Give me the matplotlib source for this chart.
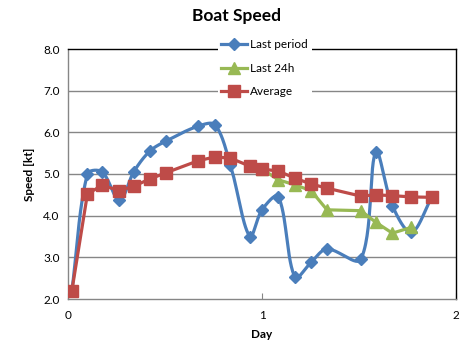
import numpy as np
import matplotlib
matplotlib.use("Agg")
import matplotlib.pyplot as plt
from matplotlib.lines import Line2D

plt.rcParams['font.family'] = ['Lato', 'DejaVu Sans']

# ---- data ----
day = [0.02, 0.10, 0.176, 0.265, 0.34, 0.422, 0.505, 0.672, 0.758, 0.837, 0.937,
       1.0, 1.084, 1.17, 1.253, 1.335, 1.509, 1.587, 1.672, 1.77, 1.875]
last_period = [2.2, 5.0, 5.05, 4.37, 5.06, 5.55, 5.79, 6.15, 6.18, 5.22, 3.5,
               4.14, 4.46, 2.52, 2.88, 3.2, 2.95, 5.53, 4.24, 3.6, 4.44]
average = [2.2, 4.52, 4.73, 4.6, 4.71, 4.88, 5.03, 5.32, 5.41, 5.38, 5.19,
           5.12, 5.07, 4.9, 4.76, 4.66, 4.47, 4.5, 4.48, 4.45, 4.44]
day_24h = [1.0, 1.084, 1.17, 1.253, 1.335, 1.509, 1.587, 1.672, 1.77]
last_24h = [5.12, 4.86, 4.74, 4.6, 4.14, 4.12, 3.84, 3.58, 3.72]

xticks = [0, 1, 2]
yticks = [2.0, 3.0, 4.0, 5.0, 6.0, 7.0, 8.0]

BLUE = '#4A7EBB'
RED = '#BE4B48'
GREEN = '#98B954'


def smooth(ax, xs, ys, n=30):
    """Excel-like smoothed line: Bezier with tangents weighted by segment length (display space)."""
    D = ax.transData.transform(np.column_stack([xs, ys]).astype(float))
    m = len(D)
    seglen = np.hypot(*np.diff(D, axis=0).T)
    tang = np.zeros_like(D)
    for i in range(m):
        a = D[i - 1] if i > 0 else D[i]
        b = D[i + 1] if i < m - 1 else D[i]
        tang[i] = b - a
    out = []
    for i in range(m - 1):
        p1, p2 = D[i], D[i + 1]
        dl = seglen[i - 1] if i > 0 else 0.0
        dr = seglen[i + 1] if i + 1 < m - 1 else 0.0
        d = seglen[i]
        w1 = d / (dl + d) if (dl + d) > 0 else 0
        w2 = d / (d + dr) if (d + dr) > 0 else 0
        c1 = p1 + tang[i] * w1 / 3.0
        c2 = p2 - tang[i + 1] * w2 / 3.0
        t = np.linspace(0, 1, n, endpoint=(i == m - 2))[:, None]
        seg = ((1 - t) ** 3) * p1 + 3 * ((1 - t) ** 2) * t * c1 + 3 * (1 - t) * t ** 2 * c2 + t ** 3 * p2
        out.append(seg)
    S = ax.transData.inverted().transform(np.vstack(out))
    return S[:, 0], S[:, 1]


fig = plt.figure(figsize=(4.74, 3.56), dpi=100)
ax = fig.add_axes([68 / 474, 1 - 299 / 356, (456 - 68) / 474, (299 - 49) / 356])

ax.set_xlim(0, 2)
ax.set_ylim(2, 8)
ax.set_xticks(xticks)
ax.set_yticks(yticks)
ax.set_yticklabels([f"{v:.1f}" for v in yticks])
ax.set_xticklabels([str(v) for v in xticks])

for v in yticks[1:-1]:
    ax.axhline(v, color='#868686', lw=1.0, zorder=0)

# blue smoothed
sx, sy = smooth(ax, day, last_period)
ax.plot(sx, sy, color=BLUE, lw=2.3, zorder=2, solid_capstyle='round')
ax.plot(day, last_period, ls='none', marker='D', ms=6, color=BLUE, zorder=2)

# green
ax.plot(day_24h, last_24h, color=GREEN, lw=2.3, marker='^', ms=8, zorder=3)

# red
ax.plot(day, average, color=RED, lw=2.3, marker='s', ms=8, zorder=4)

for s in ['left', 'bottom']:
    ax.spines[s].set_color('#868686')
for s in ['top', 'right']:
    ax.spines[s].set_color('black')
for s in ax.spines.values():
    s.set_linewidth(1.0)

ax.tick_params(axis='y', length=0, labelsize=8.5, pad=6)
ax.tick_params(axis='x', direction='in', length=4, color='#868686', labelsize=8.5, pad=8)

ax.set_xlabel('Day', fontsize=8.5, fontweight='bold', labelpad=6)
ax.set_ylabel('Speed [kt]', fontsize=8.5, fontweight='bold', labelpad=6)

fig.text(237 / 474, 1 - 16 / 356, 'Boat Speed', ha='center', va='center',
         fontsize=12.5, fontweight='bold')

handles = [
    Line2D([], [], color=BLUE, lw=2.3, marker='D', ms=6),
    Line2D([], [], color=GREEN, lw=2.3, marker='^', ms=8),
    Line2D([], [], color=RED, lw=2.3, marker='s', ms=8),
]
leg = fig.legend(handles, ['Last period', 'Last 24h', 'Average'],
                 loc='upper left', bbox_to_anchor=(212 / 474, 1 - 30 / 356),
                 frameon=True, fontsize=8.5, handlelength=2.2, handletextpad=0.25,
                 labelspacing=1.05, borderpad=0.3)
leg.get_frame().set_edgecolor('none')
leg.get_frame().set_facecolor('white')
leg.get_frame().set_alpha(1)

fig.savefig('out.png', dpi=100)
